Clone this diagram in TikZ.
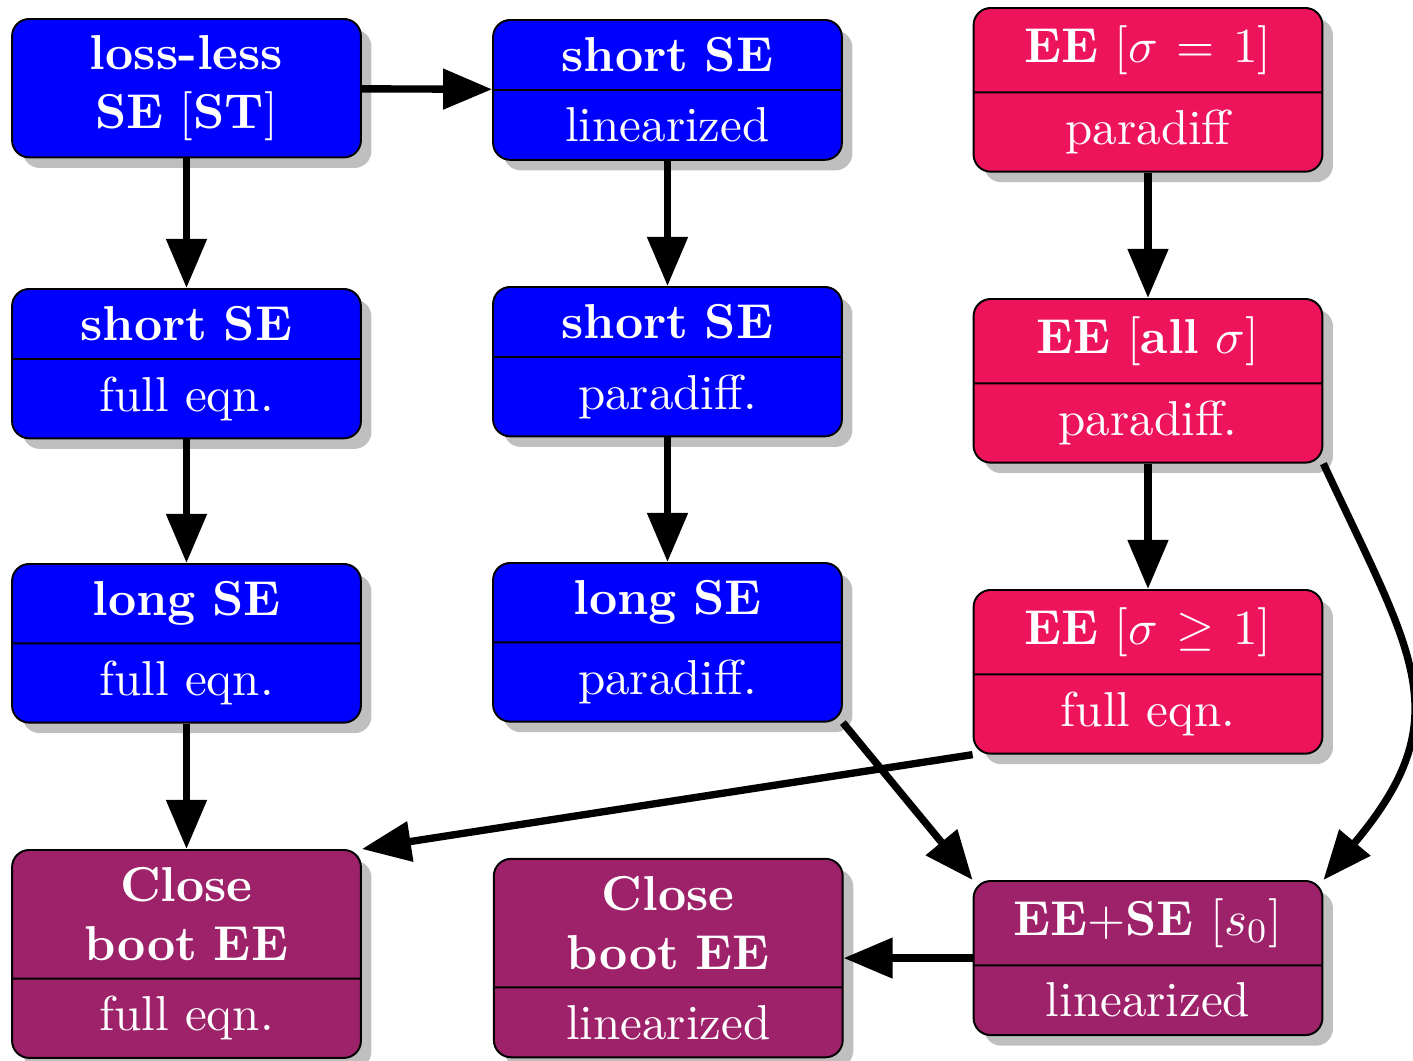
\documentclass[tikz,border=0pt]{standalone}
\usetikzlibrary{shapes.multipart,shadows,arrows.meta,positioning}
\definecolor{sebox}{RGB}{0,0,255}
\definecolor{eebox}{RGB}{237,20,91}
\definecolor{bootbox}{RGB}{158,34,106}
\tikzset{
  boxbase/.style={draw=black, rounded corners=3.5pt, text=white, text width=64.5pt,
    align=center, inner xsep=3.33pt, inner ysep=3.4pt, drop shadow},
  twopart/.style={boxbase, rectangle split, rectangle split parts=2},
  sestyle/.style={fill=sebox},
  eestyle/.style={fill=eebox},
  bootstyle/.style={fill=bootbox},
  conn/.style={line width=1.5pt, -{Triangle[length=10pt,width=8pt]}},
}
\begin{document}
\begin{tikzpicture}[x=0.2040pt, y=-0.2040pt]
\useasboundingbox (0,0) rectangle (1413,1061);

% column A
\node[boxbase, sestyle, anchor=north] (A1) at (186.5,18)
  {\textbf{loss-less}\\\textbf{SE} [\textbf{ST}]};
\node[twopart, sestyle, anchor=north] (A2) at (186.5,288)
  {\textbf{short SE}\nodepart{two}full eqn.};
\node[twopart, sestyle, anchor=north] (A3) at (186.5,563)
  {\textbf{long SE}\nodepart{two}full eqn.};
\node[twopart, bootstyle, anchor=north] (A4) at (186.5,849)
  {\textbf{Close}\\\textbf{boot EE}\nodepart{two}full eqn.};

% column B
\node[twopart, sestyle, anchor=north] (B1) at (667.5,19)
  {\textbf{short SE}\nodepart{two}linearized};
\node[twopart, sestyle, anchor=north] (B2) at (667.5,286)
  {\textbf{short SE}\nodepart{two}paradiff.};
\node[twopart, sestyle, anchor=north] (B3) at (667.5,562)
  {\textbf{long SE}\nodepart{two}paradiff.};

% column C
\node[twopart, eestyle, anchor=north] (C1) at (1148,7)
  {\textbf{EE} $[\sigma = 1]$\nodepart{two}paradiff};
\node[twopart, eestyle, anchor=north] (C2) at (1148,298)
  {\textbf{EE} $[$\textbf{all} $\sigma]$\nodepart{two}paradiff.};
\node[twopart, eestyle, anchor=north] (C3) at (1148,589)
  {\textbf{EE} $[\sigma \geq 1]$\nodepart{two}full eqn.};
\node[twopart, bootstyle, anchor=north] (C4) at (1148,880)
  {\textbf{EE}$+$\textbf{SE} $[s_0]$\nodepart{two}linearized};

\node[twopart, bootstyle, left=26.3pt of C4] (B4)
  {\textbf{Close}\\\textbf{boot EE}\nodepart{two}linearized};

% connectors
\draw[conn] (A1) -- (B1);
\draw[conn] (A1) -- (A2);
\draw[conn] (A2) -- (A3);
\draw[conn] (A3) -- (A4);
\draw[conn] (B1) -- (B2);
\draw[conn] (B2) -- (B3);
\draw[conn] (B3.south east) -- (C4.north west);
\draw[conn] (C1) -- (C2);
\draw[conn] (C2) -- (C3);
\draw[conn] (C3.south west) -- (A4.north east);
\draw[conn] (C4) -- (B4);
\draw[conn] (C2.south east) .. controls +(90,193) and +(137,-163) .. (C4.north east);
\end{tikzpicture}
\end{document}
